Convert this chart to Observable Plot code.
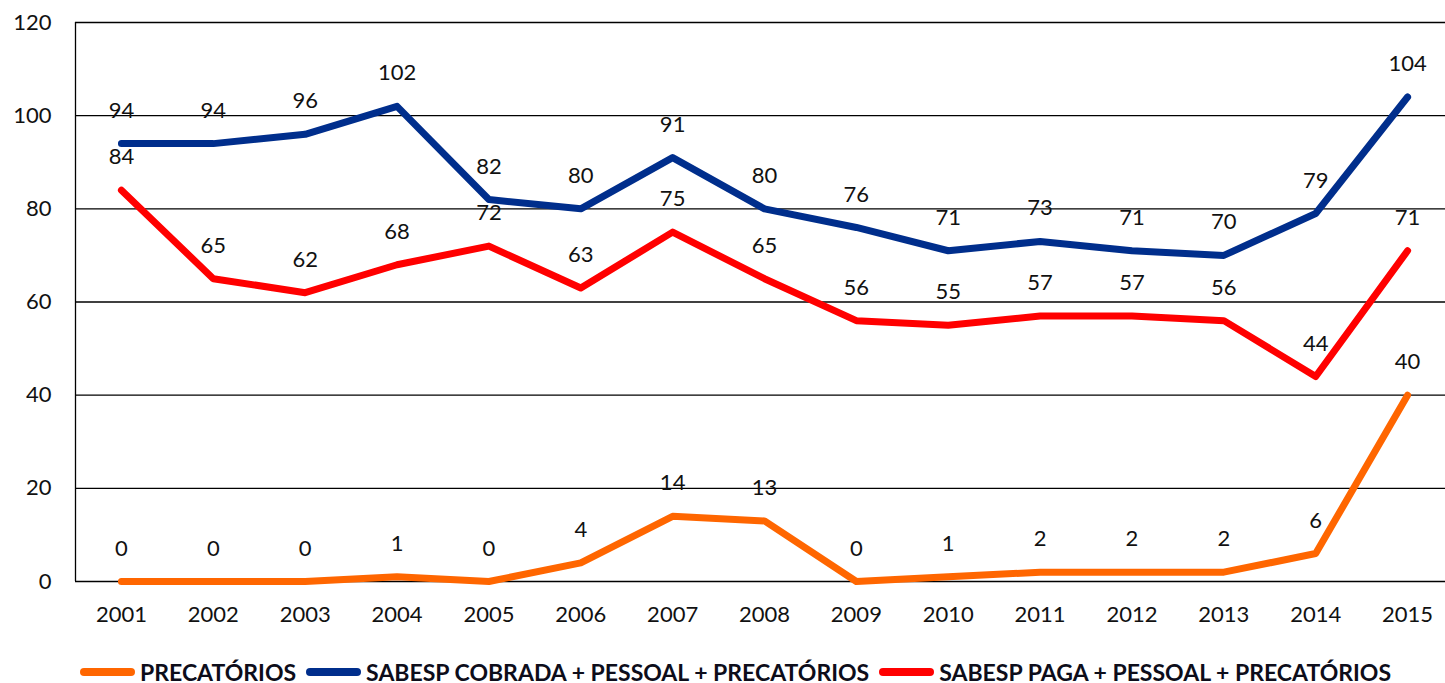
<!DOCTYPE html>
<html><head><meta charset="utf-8">
<script src="https://cdn.jsdelivr.net/npm/d3@7"></script>
<script src="https://cdn.jsdelivr.net/npm/@observablehq/plot@0.6"></script>
<style>
html,body{margin:0;background:#fff;font-family:Lato,sans-serif;overflow:hidden;}
#chart{width:1445px;overflow:hidden;height:640px;}
#chart svg{max-width:none !important;height:640px !important;}
#legend{display:flex;margin-left:80px;padding-top:10px;height:43px;align-items:center;font-weight:bold;font-size:23px;color:#0d0d1a;white-space:nowrap;}
.item{display:flex;align-items:center;margin-right:10px;}
.sw{width:55px;height:8px;border-radius:4px;margin-right:5px;}
</style></head><body>
<div id="chart"></div>
<div id="legend"></div>
<script>
const years = ["2001","2002","2003","2004","2005","2006","2007","2008","2009","2010","2011","2012","2013","2014","2015"];
const precatorios = [0,0,0,1,0,4,14,13,0,1,2,2,2,6,40];
const sabespCobrada = [94,94,96,102,82,80,91,80,76,71,73,71,70,79,104];
const sabespPaga = [84,65,62,68,72,63,75,65,56,55,57,57,56,44,71];
const seriesNames = ["PRECATÓRIOS","SABESP COBRADA + PESSOAL + PRECATÓRIOS","SABESP PAGA + PESSOAL + PRECATÓRIOS"];
const seriesColors = ["#FF6600","#002E8C","#FF0000"];
const yTicks = [0,20,40,60,80,100,120];

const allSeries = [precatorios, sabespCobrada, sabespPaga];
const rows = [];
allSeries.forEach((vals, si) => vals.forEach((v, i) => rows.push({year: years[i], value: v, series: seriesNames[si]})));

const W = 1453, ML = 75, MR = 0;
const half = (W - ML - MR) / years.length / 2;
const chart = Plot.plot({
  width: W, height: 640,
  marginLeft: ML, marginRight: MR, marginTop: 22, marginBottom: 59,
  style: {fontFamily: "Lato, sans-serif", fontSize: "22px", color: "#111", overflow: "visible", maxWidth: "none"},
  x: {type: "point", domain: years, padding: 0.5, round: false, label: null, tickSize: 0, tickPadding: 25},
  y: {domain: [0,120], ticks: yTicks, label: null, tickSize: 0, tickPadding: 24},
  color: {domain: seriesNames, range: seriesColors},
  marks: [
    Plot.gridY(yTicks, {stroke: "#000", strokeOpacity: 1, strokeWidth: 1.3}),
    Plot.ruleX([years[0]], {stroke: "#000", strokeWidth: 1.3, dx: -half}),
    Plot.line(rows, {x: "year", y: "value", z: "series", stroke: "series", strokeWidth: 7, strokeLinecap: "round", strokeLinejoin: "round"}),
    Plot.text(rows, {x: "year", y: "value", text: d => String(d.value), dy: -33, fill: "#111", fontSize: 22}),
    Plot.axisX({tickSize: 0, tickPadding: 25, fontSize: 22}),
    Plot.axisY(yTicks, {tickSize: 0, tickPadding: 24, fontSize: 22})
  ]
});
chart.style.maxWidth = "none";
document.getElementById("chart").appendChild(chart);

const leg = document.getElementById("legend");
seriesNames.forEach((n, i) => {
  const it = document.createElement("div"); it.className = "item";
  const sw = document.createElement("div"); sw.className = "sw"; sw.style.background = seriesColors[i];
  const t = document.createElement("span"); t.textContent = n;
  it.appendChild(sw); it.appendChild(t); leg.appendChild(it);
});
</script>
</body></html>
